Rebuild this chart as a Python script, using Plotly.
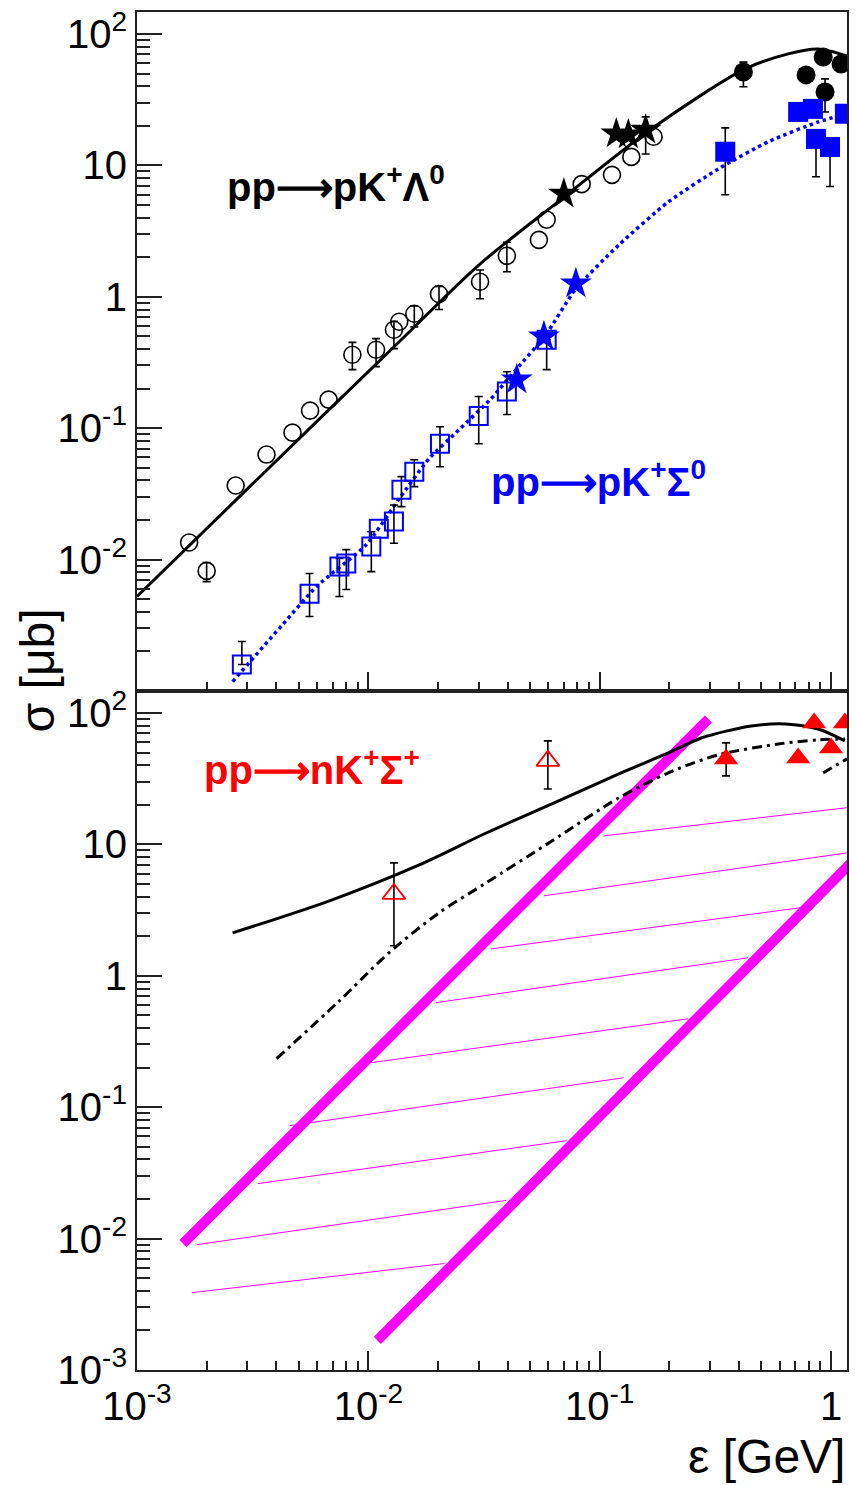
import plotly.graph_objects as go
from plotly.subplots import make_subplots

# ---------------- Top panel: pp -> p K+ Lambda0 / Sigma0 ----------------
lam_open_x = [0.00168, 0.0020, 0.00267, 0.00363, 0.0047, 0.0056, 0.00673, 0.00853, 0.0108, 0.0129, 0.0136,
              0.0158, 0.0202, 0.0304, 0.0397, 0.0546, 0.059, 0.0836, 0.113, 0.137, 0.171]
lam_open_y = [0.0135, 0.0082, 0.0366, 0.063, 0.0925, 0.136, 0.165, 0.362, 0.395, 0.561, 0.645,
              0.743, 1.05, 1.3, 2.05, 2.71, 3.86, 7.2, 8.47, 11.6, 16.5]
lam_open_hi = [None, 0.0095, None, None, None, None, None, 0.45, 0.48, 0.65, None,
               0.85, 1.2, 1.6, 2.6, None, None, None, None, None, None]
lam_open_lo = [None, 0.0068, None, None, None, None, None, 0.279, 0.294, 0.403, None,
               0.59, 0.8, 0.966, 1.55, None, None, None, None, None, None]

lam_star_x = [0.07, 0.118, 0.133, 0.158]
lam_star_y = [6.07, 17.4, 17.1, 18.6]
lam_star_hi = [None, None, None, 23.4]
lam_star_lo = [None, None, None, 12.2]

lam_full_x = [0.418, 0.78, 0.925, 0.942, 1.105]
lam_full_y = [51.4, 48.8, 66.8, 36.2, 59.1]
lam_full_hi = [61.0, None, None, 45.5, None]
lam_full_lo = [39.6, None, None, 25.5, None]

lam_curve_x = [0.001, 0.00307, 0.0136, 0.0301, 0.0686, 0.1675, 0.425, 0.653, 0.879, 1.172]
lam_curve_y = [0.00524, 0.0359, 0.455, 1.75, 5.56, 19.0, 54.2, 70.5, 76.9, 68.0]

sig_open_x = [0.00284, 0.00557, 0.0075, 0.00803, 0.0103, 0.0111, 0.0129, 0.0139, 0.0158, 0.0204, 0.030, 0.0397, 0.059]
sig_open_y = [0.00159, 0.0055, 0.00885, 0.00933, 0.0126, 0.0172, 0.0195, 0.034, 0.0466, 0.076, 0.124, 0.19, 0.471]
sig_open_hi = [0.00238, 0.00783, 0.0102, 0.0119, 0.0163, None, 0.026, 0.0428, 0.0575, 0.1026, 0.174, 0.269, None]
sig_open_lo = [None, 0.00369, 0.00524, 0.00592, 0.0081, None, 0.0133, 0.0253, 0.0359, 0.0509, 0.0762, 0.127, 0.279]

sig_star_x = [0.0438, 0.0574, 0.0789]
sig_star_y = [0.234, 0.497, 1.26]

sig_full_x = [0.349, 0.721, 0.835, 0.861, 0.99, 1.148]
sig_full_y = [12.7, 25.5, 26.9, 15.9, 13.8, 24.7]
sig_full_hi = [19.3, None, None, None, None, None]
sig_full_lo = [5.97, None, None, 8.2, 6.9, None]

sig_curve_x = [0.00259, 0.00426, 0.00597, 0.0098, 0.0136, 0.0183, 0.0247, 0.0339, 0.0435, 0.0585,
               0.0789, 0.121, 0.198, 0.326, 0.535, 0.879, 1.172]
sig_curve_y = [0.00118, 0.0032, 0.00624, 0.013, 0.0291, 0.0586, 0.0975, 0.1675, 0.279, 0.514,
               1.15, 2.48, 5.27, 9.4, 15.1, 21.4, 24.7]

# ---------------- Bottom panel: pp -> n K+ Sigma+ ----------------
sp_curve_x = [0.00259, 0.00679, 0.0166, 0.0323, 0.0621, 0.121, 0.198, 0.275, 0.452, 0.634, 0.879, 1.148]
sp_curve_y = [2.12, 3.72, 6.98, 12.2, 20.3, 34.4, 49.6, 64.5, 79.6, 82.5, 75.5, 61.3]

dd_curve_x = [0.00401, 0.0075, 0.0123, 0.0202, 0.0323, 0.0621, 0.121, 0.198, 0.326, 0.592, 0.879, 1.148]
dd_curve_y = [0.234, 0.645, 1.5, 3.01, 5.09, 10.6, 22.6, 35.0, 48.0, 58.1, 62.4, 63.4]
dd_tail_x = [0.925, 1.172]
dd_tail_y = [35.0, 44.7]

sp_open_x = [0.0129, 0.0597]
sp_open_y = [4.2, 43.2]
sp_open_hi = [7.23, 61.3]
sp_open_lo = [1.69, 26.4]

sp_full_x = [0.352, 0.721, 0.845, 1.0, 1.148]
sp_full_y = [44.7, 45.5, 84.0, 54.2, 84.0]
sp_full_hi = [59.2, None, None, None, None]
sp_full_lo = [33.2, None, None, None, None]

band_left_x = [0.00158, 0.295]
band_left_y = [0.00916, 90.0]
band_right_x = [0.01094, 1.3]
band_right_y = [0.00168, 8.1]

hatch_x = [(0.104, 1.17), (0.0574, 1.17), (0.0339, 0.734), (0.0196, 0.438), (0.0103, 0.242),
           (0.00457, 0.127), (0.00333, 0.0721), (0.00182, 0.0394), (0.00173, 0.0213)]
hatch_y = [(11.6, 19.0), (4.06, 8.6), (1.6, 3.29), (0.624, 1.37), (0.218, 0.471),
           (0.0723, 0.1675), (0.0262, 0.0556), (0.009, 0.0195), (0.00388, 0.00646)]

# axis ticks
y_major = [100, 10, 1, 0.1, 0.01, 0.001]
y_major_text_top = ["10<sup>2</sup>", "10", "1", "10<sup>-1</sup>", "10<sup>-2</sup>", ""]
y_major_text_bot = ["10<sup>2</sup>", "10", "1", "10<sup>-1</sup>", "10<sup>-2</sup>", "10<sup>-3</sup>"]
x_major = [0.001, 0.01, 0.1, 1]
x_major_text = ["10<sup>-3</sup>", "10<sup>-2</sup>", "10<sup>-1</sup>", "1"]

BLACK = "#000000"
BLUE = "#0000ff"
RED = "#ff0000"
MAG = "#ff00ff"
AXC = "#222222"

fig = make_subplots(rows=2, cols=1, shared_xaxes=True, vertical_spacing=0)


def add_err(x, y, hi, lo, row):
    xs, ys, ep, em = [], [], [], []
    for xi, yi, h, l in zip(x, y, hi, lo):
        if h is None and l is None:
            continue
        xs.append(xi)
        ys.append(yi)
        ep.append((h - yi) if h is not None else 0)
        em.append((yi - l) if l is not None else 0)
    fig.add_trace(go.Scatter(x=xs, y=ys, mode="markers",
                             marker=dict(size=1, color="rgba(0,0,0,0)"),
                             error_y=dict(type="data", symmetric=False, array=ep, arrayminus=em,
                                          color=BLACK, thickness=1.6, width=4),
                             showlegend=False, hoverinfo="skip"), row=row, col=1)


# --- top panel
fig.add_trace(go.Scatter(x=lam_curve_x, y=lam_curve_y, mode="lines",
                         line=dict(color=BLACK, width=3, shape="spline", smoothing=0.8),
                         showlegend=False), row=1, col=1)
fig.add_trace(go.Scatter(x=sig_curve_x, y=sig_curve_y, mode="lines",
                         line=dict(color=BLUE, width=3.5, dash="dot", shape="spline", smoothing=0.6),
                         showlegend=False), row=1, col=1)
add_err(lam_open_x, lam_open_y, lam_open_hi, lam_open_lo, 1)
add_err(lam_star_x, lam_star_y, lam_star_hi, lam_star_lo, 1)
add_err(lam_full_x, lam_full_y, lam_full_hi, lam_full_lo, 1)
add_err(sig_open_x, sig_open_y, sig_open_hi, sig_open_lo, 1)
add_err(sig_full_x, sig_full_y, sig_full_hi, sig_full_lo, 1)
fig.add_trace(go.Scatter(x=lam_open_x, y=lam_open_y, mode="markers",
                         marker=dict(symbol="circle-open", size=17, color=BLACK, line=dict(width=1.6)),
                         showlegend=False), row=1, col=1)
fig.add_trace(go.Scatter(x=lam_full_x, y=lam_full_y, mode="markers",
                         marker=dict(symbol="circle", size=19, color=BLACK),
                         showlegend=False), row=1, col=1)
fig.add_trace(go.Scatter(x=lam_star_x, y=lam_star_y, mode="markers",
                         marker=dict(symbol="star", size=24, color=BLACK),
                         showlegend=False), row=1, col=1)
fig.add_trace(go.Scatter(x=sig_open_x, y=sig_open_y, mode="markers",
                         marker=dict(symbol="square-open", size=18, color=BLUE, line=dict(width=2)),
                         showlegend=False), row=1, col=1)
fig.add_trace(go.Scatter(x=sig_full_x, y=sig_full_y, mode="markers",
                         marker=dict(symbol="square", size=20, color=BLUE),
                         showlegend=False), row=1, col=1)
fig.add_trace(go.Scatter(x=sig_star_x, y=sig_star_y, mode="markers",
                         marker=dict(symbol="star", size=24, color=BLUE),
                         showlegend=False), row=1, col=1)

# --- bottom panel
for hx, hy in zip(hatch_x, hatch_y):
    fig.add_trace(go.Scatter(x=list(hx), y=list(hy), mode="lines",
                             line=dict(color=MAG, width=1), showlegend=False), row=2, col=1)
fig.add_trace(go.Scatter(x=band_left_x, y=band_left_y, mode="lines",
                         line=dict(color=MAG, width=10), showlegend=False), row=2, col=1)
fig.add_trace(go.Scatter(x=band_right_x, y=band_right_y, mode="lines",
                         line=dict(color=MAG, width=10), showlegend=False), row=2, col=1)
fig.add_trace(go.Scatter(x=sp_curve_x, y=sp_curve_y, mode="lines",
                         line=dict(color=BLACK, width=3, shape="spline", smoothing=0.8),
                         showlegend=False), row=2, col=1)
fig.add_trace(go.Scatter(x=dd_curve_x, y=dd_curve_y, mode="lines",
                         line=dict(color=BLACK, width=3, dash="10px,5px,3px,5px", shape="spline", smoothing=0.8),
                         showlegend=False), row=2, col=1)
fig.add_trace(go.Scatter(x=dd_tail_x, y=dd_tail_y, mode="lines",
                         line=dict(color=BLACK, width=3, dash="10px,5px,3px,5px"),
                         showlegend=False), row=2, col=1)
add_err(sp_open_x, sp_open_y, sp_open_hi, sp_open_lo, 2)
add_err(sp_full_x, sp_full_y, sp_full_hi, sp_full_lo, 2)
fig.add_trace(go.Scatter(x=sp_open_x, y=sp_open_y, mode="markers",
                         marker=dict(symbol="triangle-up-open", size=20, color=RED, line=dict(width=1.8)),
                         showlegend=False), row=2, col=1)
fig.add_trace(go.Scatter(x=sp_full_x, y=sp_full_y, mode="markers",
                         marker=dict(symbol="triangle-up", size=21, color=RED),
                         showlegend=False), row=2, col=1)

# --- axes
minor_vals = [m * 10.0 ** e for e in range(-4, 3) for m in range(2, 10)]
xcommon = dict(type="log", range=[-3, 0.069], showline=True, linecolor=AXC, linewidth=2, mirror=True,
               ticks="inside", ticklen=19, tickwidth=2, tickcolor=AXC, showgrid=False, zeroline=False,
               tickmode="array", tickvals=x_major,
               minor=dict(tickmode="array", tickvals=minor_vals, ticks="inside", ticklen=9,
                          tickwidth=2, tickcolor=AXC, showgrid=False))
ycommon = dict(type="log", range=[-3, 2.167], showline=True, linecolor=AXC, linewidth=2, mirror=True,
               ticks="inside", ticklen=25, tickwidth=2, tickcolor=AXC, showgrid=False, zeroline=False,
               tickmode="array", tickvals=y_major,
               minor=dict(tickmode="array", tickvals=minor_vals, ticks="inside", ticklen=13,
                          tickwidth=2, tickcolor=AXC, showgrid=False))

fig.update_xaxes(**xcommon)
fig.update_yaxes(**ycommon)
fig.update_xaxes(showticklabels=False, row=1, col=1)
fig.update_xaxes(showticklabels=True, ticktext=x_major_text, row=2, col=1)
fig.update_yaxes(ticktext=y_major_text_top, row=1, col=1)
fig.update_yaxes(ticktext=y_major_text_bot, row=2, col=1)

LBL = 40
fig.add_annotation(text="<b>pp⟶pK<sup>+</sup>Λ<sup>0</sup></b>", xref="paper", yref="paper",
                   x=0.124, y=0.873, xanchor="left", yanchor="middle", showarrow=False,
                   font=dict(size=LBL, color=BLACK))
fig.add_annotation(text="<b>pp⟶pK<sup>+</sup>Σ<sup>0</sup></b>", xref="paper", yref="paper",
                   x=0.496, y=0.656, xanchor="left", yanchor="middle", showarrow=False,
                   font=dict(size=LBL, color=BLUE))
fig.add_annotation(text="<b>pp⟶nK<sup>+</sup>Σ<sup>+</sup></b>", xref="paper", yref="paper",
                   x=0.091, y=0.444, xanchor="left", yanchor="middle", showarrow=False,
                   font=dict(size=LBL, color=RED))
fig.add_annotation(text="σ [μb]", xref="paper", yref="paper", x=-0.1404, y=0.5154,
                   xanchor="center", yanchor="middle", textangle=-90, showarrow=False,
                   font=dict(size=48, color=BLACK))
fig.add_annotation(text="ε [GeV]", xref="paper", yref="paper", x=1.0, y=-0.064,
                   xanchor="right", yanchor="middle", showarrow=False,
                   font=dict(size=48, color=BLACK))

fig.update_layout(width=855, height=1485, margin=dict(l=137, r=6, t=10, b=115),
                  paper_bgcolor="white", plot_bgcolor="white",
                  font=dict(family="Liberation Sans, Arial, sans-serif", size=40, color=BLACK),
                  showlegend=False, hovermode=False)

fig.write_html("out.html", config={"displayModeBar": False, "staticPlot": True},
               post_script="document.body.style.margin='0px';document.body.style.overflow='hidden';")
